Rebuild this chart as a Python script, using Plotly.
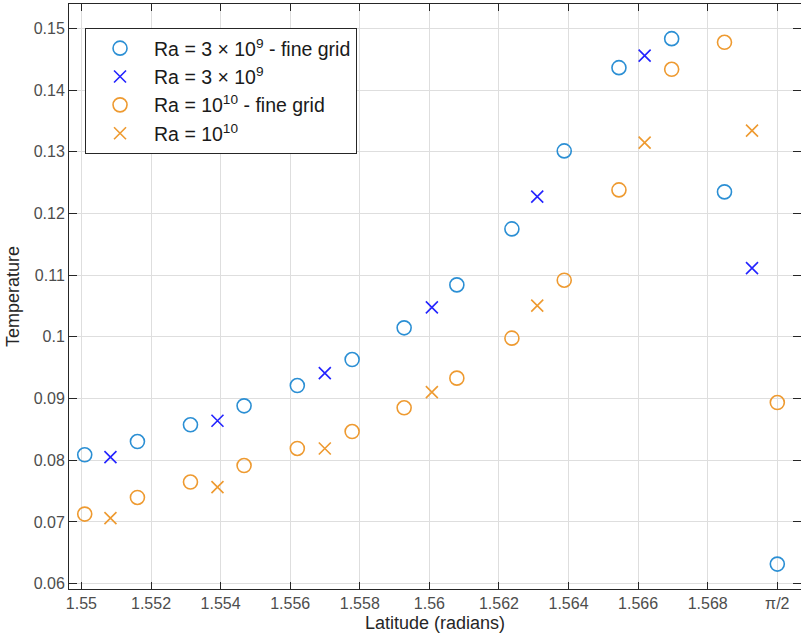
import plotly.graph_objects as go

# Data
lat_fine = [1.550095, 1.55161, 1.553134, 1.554675, 1.556205, 1.55778, 1.559275,
            1.56079, 1.562372, 1.563876, 1.565449, 1.566964, 1.568482, 1.5700]
lat_coarse = [1.550834, 1.55391, 1.556995, 1.560072, 1.5631, 1.566187, 1.569273]

temp_3e9_fine = [0.08089, 0.08304, 0.08575, 0.08882, 0.09211, 0.09632, 0.10146,
                 0.10842, 0.11749, 0.13013, 0.14362, 0.14832, 0.12349, 0.06318]
temp_3e9 = [0.08052, 0.0864, 0.09412, 0.10478, 0.12272, 0.14556, 0.11113]
temp_1e10_fine = [0.07128, 0.07397, 0.07647, 0.07915, 0.08191, 0.08466, 0.0885,
                  0.09331, 0.09979, 0.10918, 0.12381, 0.14336, 0.14773, 0.08936]
temp_1e10 = [0.07063, 0.07566, 0.08191, 0.09104, 0.10507, 0.13147, 0.13341]

x_tickvals = [1.550, 1.552, 1.554, 1.556, 1.558, 1.560, 1.562, 1.564, 1.566, 1.568, 1.570]
x_ticktext = ["1.55", "1.552", "1.554", "1.556", "1.558", "1.56", "1.562",
              "1.564", "1.566", "1.568", "π/2"]
y_tickvals = [0.06, 0.07, 0.08, 0.09, 0.10, 0.11, 0.12, 0.13, 0.14, 0.15]
y_ticktext = ["0.06", "0.07", "0.08", "0.09", "0.1", "0.11", "0.12", "0.13", "0.14", "0.15"]

BLUE_C = "#2b8fd4"
BLUE_X = "#2424ff"
ORANGE = "#ee9a30"
FONT = "Liberation Sans"

fig = go.Figure()
fig.add_trace(go.Scatter(x=lat_fine, y=temp_3e9_fine, mode="markers",
                         name="Ra = 3 × 10<sup>9</sup> - fine grid",
                         marker=dict(symbol="circle-open", size=14, color=BLUE_C,
                                     line=dict(width=1.6, color=BLUE_C))))
fig.add_trace(go.Scatter(x=lat_coarse, y=temp_3e9, mode="markers",
                         name="Ra = 3 × 10<sup>9</sup>",
                         marker=dict(symbol="x-thin-open", size=12, color=BLUE_X,
                                     line=dict(width=1.6, color=BLUE_X))))
fig.add_trace(go.Scatter(x=lat_fine, y=temp_1e10_fine, mode="markers",
                         name="Ra = 10<sup>10</sup> - fine grid",
                         marker=dict(symbol="circle-open", size=14, color=ORANGE,
                                     line=dict(width=1.6, color=ORANGE))))
fig.add_trace(go.Scatter(x=lat_coarse, y=temp_1e10, mode="markers",
                         name="Ra = 10<sup>10</sup>",
                         marker=dict(symbol="x-thin-open", size=12, color=ORANGE,
                                     line=dict(width=1.6, color=ORANGE))))

axis_common = dict(showline=True, linecolor="#262626", linewidth=1, mirror="ticks",
                   ticks="inside", tickcolor="#262626", tickwidth=1,
                   showgrid=True, gridcolor="#dedede", gridwidth=1, zeroline=False,
                   automargin=False,
                   tickfont=dict(family=FONT, size=16, color="#4d4d4d"))

fig.update_xaxes(range=[1.549643, 1.570681], tickvals=x_tickvals, ticktext=x_ticktext,
                 ticklen=7,
                 title=dict(text="Latitude (radians)", standoff=5,
                            font=dict(family=FONT, size=18, color="#262626")),
                 **axis_common)
fig.update_yaxes(range=[0.059142, 0.153936], tickvals=y_tickvals, ticktext=y_ticktext,
                 ticklen=8,
                 title=dict(text="Temperature", standoff=9,
                            font=dict(family=FONT, size=18, color="#262626")),
                 **axis_common)

fig.update_layout(
    width=801, height=640,
    margin=dict(l=69, r=0, t=4, b=51),
    paper_bgcolor="white", plot_bgcolor="white",
    font=dict(family=FONT, size=16, color="#262626"),
    legend=dict(x=0.0219, y=0.959, xanchor="left", yanchor="top",
                bgcolor="white", bordercolor="#262626", borderwidth=1,
                itemwidth=58,
                font=dict(family=FONT, size=19.5, color="#1a1a1a")),
    showlegend=True,
)

fig.write_html("out.html",
               config={"displayModeBar": False},
               post_script="document.body.style.margin='0';document.body.style.padding='0';")
